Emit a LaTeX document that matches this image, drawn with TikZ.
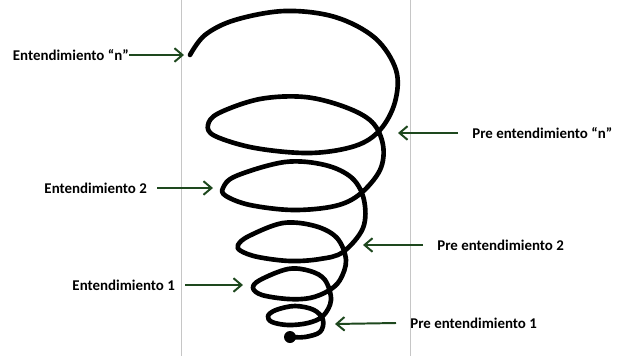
\documentclass[tikz,border=0pt]{standalone}
\usepackage{fontspec}
\setmainfont{Carlito}
\usetikzlibrary{arrows.meta}
\definecolor{arrowgreen}{RGB}{30,72,30}

\begin{document}
\begin{tikzpicture}[
  x=0.025cm, y=-0.025cm,
  font=\fontsize{10.6}{12}\selectfont\bfseries,
  >={Straight Barb[length=2mm,width=3.4mm]},
  lbl/.style={inner ysep=1pt, inner xsep=7pt},
  arr/.style={->, arrowgreen, line width=1.4pt},
  guide/.style={draw=gray!45, line width=0.6pt},
  spiral/.style={line width=3.3pt, line cap=round, line join=round},
]
\useasboundingbox (0,0) rectangle (625,356);
% frame lines
\draw[guide] (181,0) -- (181,356);
\draw[guide] (410,0) -- (410,356);
% the spiral, from the top loop down to the dot
\draw[spiral] plot[smooth, tension=0.58] coordinates {
  (190,55) (205,35) (235,20) (285,11) (335,17) (375,38) (396,70) (395,102)
  (380,130) (355,146) (310,153) (255,148) (215,136) (208,125)
  (219,113) (260,99) (305,97) (345,107) (372,122) (383,145) (380,170)
  (360,194) (335,206) (293,210) (250,205) (226,196) (223,188)
  (236,176) (285,162) (325,165) (352,178) (364,200) (363,228)
  (343,252) (320,259) (290,261) (258,257) (241,251) (238,245)
  (249,236) (283,223) (315,226) (337,238) (346,260) (340,280)
  (328,291) (310,298) (288,299) (262,295) (253,288)
  (260,280) (288,269) (310,271) (325,280) (331,300) (323,316)
  (308,323) (288,325) (272,322) (268,316)
  (276,310) (295,306) (314,310) (323,320) (320,332) (305,337) (291,337)};
\fill (290,337) circle (6);
% left labels
\node[lbl, anchor=east, inner xsep=0pt] (entn) at (129,55) {Entendimiento “n”};
\node[lbl, anchor=east] (ent2) at (157,188) {Entendimiento 2};
\node[lbl, anchor=east] (ent1) at (185,285) {Entendimiento 1};
\coordinate (entn-tip) at (184,55);
\coordinate (ent2-tip) at (213,188);
\coordinate (ent1-tip) at (243,285);
% right labels
\node[lbl, anchor=west, inner xsep=10pt] (pren) at (458,133) {Pre entendimiento “n”};
\node[lbl, anchor=west, inner xsep=10pt] (pre2) at (423,245) {Pre entendimiento 2};
\node[lbl, anchor=west, inner xsep=10pt] (pre1) at (396,323) {Pre entendimiento 1};
\coordinate (pren-tip) at (398,133);
\coordinate (pre2-tip) at (363,245);
\coordinate (pre1-tip) at (335,324);
% arrows
\draw[arr] (entn.east) -- (entn-tip);
\draw[arr] (ent2.east) -- (ent2-tip);
\draw[arr] (ent1.east) -- (ent1-tip);
\draw[arr] (pren.west) -- (pren-tip);
\draw[arr] (pre2.west) -- (pre2-tip);
\draw[arr] (pre1.west) -- (pre1-tip);
\end{tikzpicture}
\end{document}
